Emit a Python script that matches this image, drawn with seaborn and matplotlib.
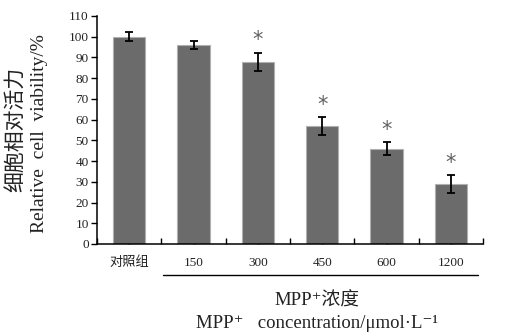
import matplotlib
matplotlib.use("Agg")
import matplotlib.pyplot as plt
import seaborn as sns
import numpy as np
import pandas as pd
from matplotlib.ticker import FixedLocator
import matplotlib.transforms as mtransforms

categories = ["对照组", "150", "300", "450", "600", "1200"]
viability = [100, 96, 88, 57, 46, 29]
sd = [2.3, 2.0, 4.3, 4.3, 3.2, 4.3]
significant = [False, False, True, True, True, True]
yticks = list(range(0, 111, 10))

sns.set_theme(style="white")
serif = ["Liberation Serif", "DejaVu Serif", "Noto Sans CJK SC"]
plt.rcParams["font.family"] = serif

df = pd.DataFrame({"group": categories, "value": viability})

fig = plt.figure(figsize=(5.08, 3.35), dpi=100)
ax = fig.add_axes([97/508, 1-244/335, (483-97)/508, 228/335])

sns.barplot(data=df, x="group", y="value", order=categories, errorbar=None,
            width=0.5, color="#6b6b6b", saturation=1, edgecolor="#b0b0b0",
            linewidth=0.8, ax=ax)

xpos = np.arange(len(categories))
ax.errorbar(xpos, viability, yerr=sd, fmt="none", ecolor="black",
            elinewidth=1.3, capsize=2.8, capthick=1.3, zorder=5)

for i, (v, e, s) in enumerate(zip(viability, sd, significant)):
    if s:
        ax.text(i, v + e + 6.0, "*", ha="center", va="center", fontsize=15,
                color="#606060", family=["DejaVu Sans"])

ax.set_xlim(-0.5, len(categories) - 0.5)
ax.set_ylim(0, 110)
ax.set_yticks(yticks)
ax.set_xticks(xpos)
ax.set_xticklabels(categories)
ax.xaxis.set_minor_locator(FixedLocator(np.arange(-0.5, len(categories), 1.0)))

for sp in ["top", "right"]:
    ax.spines[sp].set_visible(False)
for sp in ["left", "bottom"]:
    ax.spines[sp].set_color("black")
    ax.spines[sp].set_linewidth(1.1)

ax.tick_params(axis="y", which="major", direction="out", length=4, width=1,
               color="black", pad=2, labelsize=9.5, left=True)
ax.tick_params(axis="x", which="both", direction="in", length=4, width=1,
               color="black", pad=9, labelsize=9.5, bottom=True)
for lab in ax.get_xticklabels() + ax.get_yticklabels():
    lab.set_family(serif)
    lab.set_color("#222222")
ax.set_xlabel("")
ax.set_ylabel("")

# underline below concentration labels
trans = mtransforms.blended_transform_factory(ax.transData, ax.transAxes)
ax.plot([0.53, 5.42], [-0.136, -0.136], color="black", lw=1, transform=trans,
        clip_on=False)

# y labels
fig.text(15/508, 1-129/335, "细胞相对活力", rotation=90, ha="center", va="center",
         fontsize=15, family=["Noto Sans CJK SC"], color="#222222")
fig.text(40/508, 1-134/335, "Relative  cell  viability/%", rotation=90,
         ha="center", va="center", fontsize=14, family=serif, color="#222222")

# x labels
fig.text(317/508, 1-301/335, "MPP⁺浓度", ha="center", va="center",
         fontsize=13.5, family=serif, color="#222222")
fig.text(317/508, 1-323/335, "MPP⁺   concentration/μmol·L⁻¹", ha="center",
         va="center", fontsize=13.5, family=serif, color="#222222")

fig.savefig("out.png", dpi=100)
